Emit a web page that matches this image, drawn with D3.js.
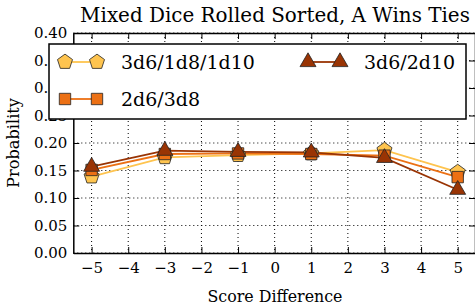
<!DOCTYPE html>
<html><head><meta charset="utf-8">
<script src="https://cdn.jsdelivr.net/npm/d3@7"></script>
<style>body{margin:0;background:#fff}svg{display:block}</style>
</head><body>
<script>
const xValues = [-5, -3, -1, 1, 3, 5];
const seriesNames = ["3d6/1d8/1d10", "2d6/3d8", "3d6/2d10"];
const s1 = [0.139, 0.174, 0.178, 0.181, 0.187, 0.147];
const s2 = [0.151, 0.180, 0.181, 0.180, 0.177, 0.138];
const s3 = [0.157, 0.186, 0.184, 0.183, 0.173, 0.115];
const xTicks = [-5, -4, -3, -2, -1, 0, 1, 2, 3, 4, 5];
const yTicks = [0, 0.05, 0.10, 0.15, 0.20, 0.25, 0.30, 0.35, 0.40];

(function () {
const W = 475, H = 308;
const mLeft = 73.3, mRight = 476, mTop = 33, mBottom = 253;
const font = "DejaVu Serif";
const svg = d3.select("body").append("svg").attr("width", W).attr("height", H);
const x = d3.scaleLinear().domain([-5.5, 5.5]).range([mLeft, mRight]);
const y = d3.scaleLinear().domain([0, 0.4]).range([mBottom, mTop]);

function fit(sel, target) {
  const w = sel.node().getComputedTextLength();
  const fs = parseFloat(sel.attr("font-size"));
  sel.attr("font-size", (fs * target / w).toFixed(2));
}

// grid
const g = svg.append("g");
g.selectAll(".gx").data(xTicks).join("line")
  .attr("x1", d => x(d)).attr("x2", d => x(d)).attr("y1", mTop).attr("y2", mBottom)
  .attr("stroke", "#000").attr("stroke-width", 1).attr("stroke-dasharray", "1,3");
g.selectAll(".gy").data(yTicks).join("line")
  .attr("y1", d => y(d)).attr("y2", d => y(d)).attr("x1", mLeft).attr("x2", mRight)
  .attr("stroke", "#000").attr("stroke-width", 1).attr("stroke-dasharray", "1,3");

// axes
const xb = svg.append("g").attr("transform", `translate(0,${mBottom})`)
  .call(d3.axisBottom(x).tickValues(xTicks).tickSizeInner(-6).tickSizeOuter(0).tickPadding(9)
    .tickFormat(d => d < 0 ? "\u2212" + Math.abs(d) : d));
const xt = svg.append("g").attr("transform", `translate(0,${mTop})`)
  .call(d3.axisTop(x).tickValues(xTicks).tickSizeInner(-6).tickSizeOuter(0).tickFormat(""));
const yl = svg.append("g").attr("transform", `translate(${mLeft},0)`)
  .call(d3.axisLeft(y).tickValues(yTicks).tickSizeInner(-6).tickSizeOuter(0).tickPadding(6)
    .tickFormat(d3.format(".2f")));
const yr = svg.append("g").attr("transform", `translate(${mRight - 1},0)`)
  .call(d3.axisRight(y).tickValues(yTicks).tickSizeInner(-6).tickSizeOuter(0).tickFormat(""));
[xb, xt, yl, yr].forEach(a => {
  a.attr("font-family", font).attr("font-size", 15);
  a.select(".domain").attr("stroke", "#000").attr("stroke-width", 1.5);
  a.selectAll(".tick line").attr("stroke", "#000").attr("stroke-width", 1);
  a.selectAll("text").attr("fill", "#000");
});
xb.selectAll("text").attr("dy", "0.71em");

const colors = ["#fec44f", "#ec7014", "#993404"];
const lineColors = ["#fec44f", "#ec7014", "#993404"];
const pentagon = {draw(ctx, size){const r=Math.sqrt(size/2.4);for(let i=0;i<5;i++){const a=-Math.PI/2+i*2*Math.PI/5;const px=r*Math.cos(a),py=r*Math.sin(a);if(i)ctx.lineTo(px,py);else ctx.moveTo(px,py);}ctx.closePath();}};
const symbols = [
  d3.symbol().type(pentagon).size(150),
  d3.symbol().type(d3.symbolSquare).size(130),
  d3.symbol().type(d3.symbolTriangle).size(110)
];
const data = [s1, s2, s3];
const line = d3.line().x((d, i) => x(xValues[i])).y(d => y(d));
const plot = svg.append("g");
data.forEach((s, k) => {
  plot.append("path").datum(s).attr("d", line).attr("fill", "none")
    .attr("stroke", lineColors[k]).attr("stroke-width", 1.8);
});
data.forEach((s, k) => {
  plot.append("g").selectAll("path").data(s).join("path")
    .attr("transform", (d, i) => `translate(${x(xValues[i])},${y(d)})`)
    .attr("d", symbols[k]()).attr("fill", colors[k]).attr("stroke", "#222").attr("stroke-width", 0.8);
});

// legend
const lg = svg.append("g");
lg.append("rect").attr("x", 49).attr("y", 44).attr("width", 417).attr("height", 75)
  .attr("fill", "#fff").attr("stroke", "#000").attr("stroke-width", 1.5);
const legPos = [[65, 62], [65, 99], [308, 62]];
const legW = [137, 85, 92];
seriesNames.forEach((n, k) => {
  const [lx, ly] = legPos[k];
  lg.append("line").attr("x1", lx).attr("x2", lx + 32).attr("y1", ly).attr("y2", ly)
    .attr("stroke", lineColors[k]).attr("stroke-width", 1.8);
  [lx, lx + 32].forEach(px => lg.append("path").attr("transform", `translate(${px},${ly})`)
    .attr("d", symbols[k]()).attr("fill", colors[k]).attr("stroke", "#222").attr("stroke-width", 0.8));
  lg.append("text").attr("x", lx + 56).attr("y", ly).attr("dy", "0.36em")
    .attr("font-family", font).attr("font-size", 19).text(n);
});

const title = svg.append("text").attr("x", 275).attr("y", 22).attr("text-anchor", "middle")
  .attr("font-family", font).attr("font-size", 19).text("Mixed Dice Rolled Sorted, A Wins Ties");
fit(title, 390);
const xl = svg.append("text").attr("x", 275).attr("y", 302).attr("text-anchor", "middle")
  .attr("font-family", font).attr("font-size", 16).text("Score Difference");
fit(xl, 135);
const ylab = svg.append("text").attr("transform", "translate(19,143) rotate(-90)").attr("text-anchor", "middle")
  .attr("font-family", font).attr("font-size", 16).text("Probability");
fit(ylab, 90);
})();
</script>
</body></html>
